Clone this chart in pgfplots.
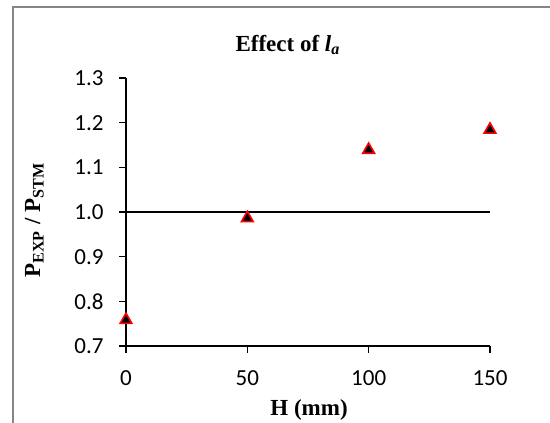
\documentclass[border=0pt]{standalone}
\usepackage{fontspec}
\setmainfont{Liberation Serif}
\newfontfamily\calibri{Carlito}
\usepackage{pgfplots}
\pgfplotsset{compat=1.18}
\definecolor{framegray}{HTML}{868686}
\newcommand\fs{\fontsize{11.5}{13.5}\selectfont}

\begin{document}
\begin{tikzpicture}
\begin{axis}[
  at={(63pt,38pt)}, anchor=south west,
  scale only axis, width=182pt, height=134pt,
  xmin=0, xmax=150, ymin=0.7, ymax=1.3,
  xtick={0,50,100,150},
  ytick={0.7,0.8,0.9,1.0,1.1,1.2,1.3},
  yticklabel style={/pgf/number format/fixed, /pgf/number format/fixed zerofill,
    /pgf/number format/precision=1},
  /pgf/number format/assume math mode=true,
  tick label style={font=\calibri\fs, inner sep=0pt},
  xticklabel style={anchor=north, yshift=-8.5pt},
  yticklabel style={anchor=east, xshift=-7.5pt},
  axis lines=left, axis line style={-, line width=0.6pt},
  tick align=outside, major tick length=3.5pt,
  tick style={black, line width=0.6pt},
  clip=false,
  title={\fs\textbf{Effect of \textit{l}\textsubscript{\textit{a}}}},
  title style={at={(axis description cs:0.445,1.1)}, anchor=base, yshift=-6pt, inner sep=0pt},
  xlabel={\fs\textbf{H (mm)}},
  xlabel style={at={(axis description cs:0.503,-0.261)}, anchor=base, inner sep=0pt},
  ylabel={\fs\textbf{P\textsubscript{EXP} / P\textsubscript{STM}}},
  ylabel style={at={(axis description cs:-0.236,0.47)}, anchor=base, inner sep=0pt},
]
% reference line at 1.0
\addplot[black, line width=0.9pt] coordinates {(0,1) (150,1)};
% measured ratios
\addplot[only marks, mark=triangle*, mark size=3.4pt,
  mark options={draw=red, fill=black, line width=0.8pt, yshift=-0.85pt}]
  coordinates {(0,0.762) (50,0.990) (100,1.143) (150,1.188)};
\end{axis}
\draw[framegray, line width=1.1pt] (6.4pt,-20pt) |- (300pt,207.65pt);
\pgfresetboundingbox
\path[use as bounding box] (0,0) rectangle (275pt,211pt);
\end{tikzpicture}
\end{document}
